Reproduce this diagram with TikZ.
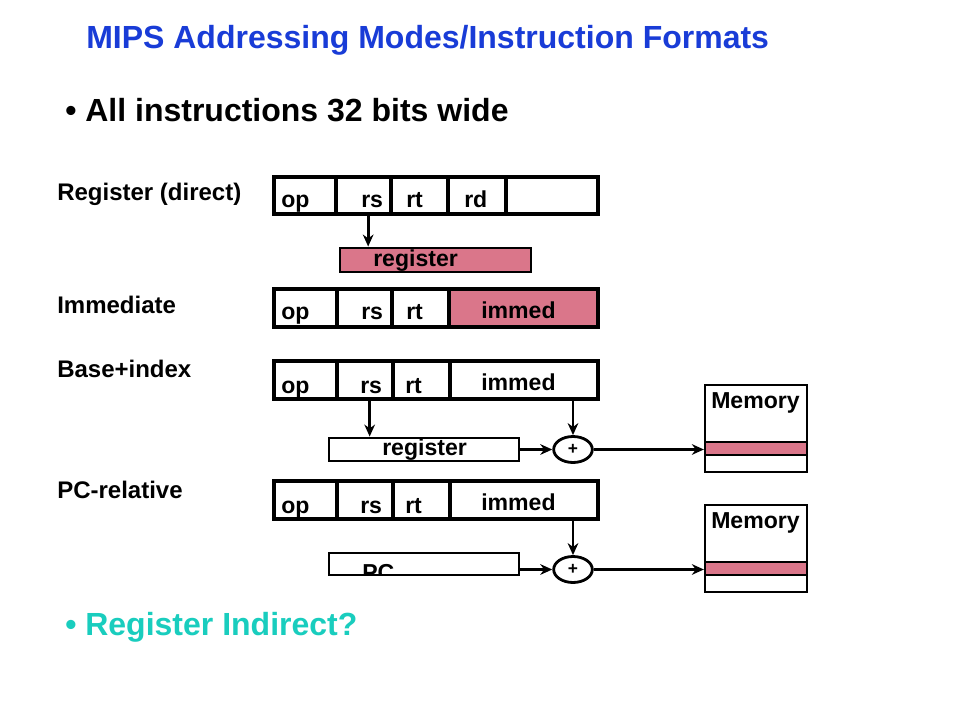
\documentclass[tikz,border=0pt]{standalone}
\usepackage{fontspec}
\setmainfont{Liberation Sans}
\usetikzlibrary{arrows.meta,fit,shapes.geometric}
\definecolor{titleblue}{RGB}{25,60,215}
\definecolor{tealtxt}{RGB}{25,205,190}
\definecolor{hatch}{RGB}{218,118,138}
\begin{document}
\begin{tikzpicture}[x=0.75pt,y=-0.75pt,
  fld/.style={draw, line width=2.5pt, inner sep=0pt},
  regbox/.style={draw, line width=2.2pt, inner sep=0pt},
  membox/.style={draw, line width=2.1pt, inner sep=0pt},
  band/.style={draw, line width=1.7pt, inner sep=0pt, fill=hatch},
  txt/.style={anchor=base west, inner sep=0pt, font=\fontsize{17.3}{20}\selectfont\bfseries},
  lbl/.style={anchor=base west, inner sep=0pt, font=\fontsize{18}{21}\selectfont\bfseries},
  big/.style={anchor=base west, inner sep=0pt, font=\fontsize{24}{28}\selectfont\bfseries},
  adder/.style={draw, ellipse, line width=2.1pt, inner sep=0pt, minimum width=29pt, minimum height=19.5pt, font=\fontsize{13}{15}\selectfont\bfseries},
  arr/.style={line width=2.1pt, -{Stealth[length=9pt,width=8pt]}}
]
\useasboundingbox[fill=white] (0,0) rectangle (960,720);

% titles
\node[big, text=titleblue] (title) at (86,49) {MIPS Addressing Modes/Instruction Formats};
\node[big] (bul1) at (65,122) {• All instructions 32 bits wide};
\node[big, text=tealtxt] (bul2) at (65,635) {• Register Indirect?};

% mode labels
\node[lbl] (l1) at (57,201) {Register (direct)};
\node[lbl] (l2) at (57,313) {Immediate};
\node[lbl] (l3) at (57,377) {Base+index};
\node[lbl] (l4) at (57,498) {PC-relative};

% ---- Row 1: register direct
\node[fld, fit={(274,177) (336,214)}] (op1) {};
\node[fld, fit={(336,177) (391,214)}] (rs1) {};
\node[fld, fit={(391,177) (448,214)}] (rt1) {};
\node[fld, fit={(448,177) (506,214)}] (rd1) {};
\node[fld, fit={(506,177) (598,214)}] (fn1) {};
\node[txt] (op1t) at (281,208) {op};
\node[txt] (rs1t) at (361,208) {rs};
\node[txt] (rt1t) at (406,208) {rt};
\node[txt] (rd1t) at (464,208) {rd};

\node[regbox, fill=hatch, fit={(340,248) (531,272)}] (reg1) {};
\node[txt] (reg1t) at (373,267) {register};
\draw[arr] ([xshift=3.5pt]rs1.south) -- ([xshift=3.5pt]rs1.south |- reg1.north);

% ---- Row 2: immediate
\node[fld, fit={(274,289) (337,327)}] (op2) {};
\node[fld, fit={(337,289) (392,327)}] (rs2) {};
\node[fld, fit={(392,289) (449,327)}] (rt2) {};
\node[fld, fill=hatch, fit={(449,289) (598,327)}] (im2) {};
\node[txt] (op2t) at (281,320) {op};
\node[txt] (rs2t) at (361,320) {rs};
\node[txt] (rt2t) at (406,320) {rt};
\node[txt] (im2t) at (481,319) {immed};

% ---- Row 3: base+index
\node[fld, fit={(274,361) (337,399)}] (op3) {};
\node[fld, fit={(337,361) (393,399)}] (rs3) {};
\node[fld, fit={(393,361) (450,399)}] (rt3) {};
\node[fld, fit={(450,361) (598,399)}] (im3) {};
\node[txt] (op3t) at (281,393) {op};
\node[txt] (rs3t) at (360,393) {rs};
\node[txt] (rt3t) at (405,393) {rt};
\node[txt] (im3t) at (481,390) {immed};

\node[regbox, fit={(329,438) (519,461)}] (reg2) {};
\node[txt] (reg2t) at (382,455) {register};
\node[adder] (add1) at (573,449.5) {+};
\node[membox, fit={(705,385) (807,472)}] (mem1) {};
\node[band, fit={(705,442) (807,455)}] (band1) {};
\node[txt] (mem1t) at (711,408) {Memory};

\draw[arr] ([xshift=3.5pt]rs3.south) -- ([xshift=3.5pt]rs3.south |- reg2.north);
\draw[arr] (add1.north |- im3.south) -- (add1.north);
\draw[arr] (reg2.east |- add1.west) -- (add1.west);
\draw[arr] (add1.east) -- (band1.west |- add1.east);

% ---- Row 4: PC-relative
\node[fld, fit={(274,481) (337,519)}] (op4) {};
\node[fld, fit={(337,481) (393,519)}] (rs4) {};
\node[fld, fit={(393,481) (450,519)}] (rt4) {};
\node[fld, fit={(450,481) (598,519)}] (im4) {};
\node[txt] (op4t) at (281,513) {op};
\node[txt] (rs4t) at (360,513) {rs};
\node[txt] (rt4t) at (405,513) {rt};
\node[txt] (im4t) at (481,510) {immed};

\begin{scope}
  \clip (329,553) rectangle (519,575);
  \node[txt] (pct) at (362,580) {PC};
\end{scope}
\node[regbox, fit={(329,553) (519,575)}] (pc) {};
\node[adder] (add2) at (573,569.5) {+};
\node[membox, fit={(705,505) (807,592)}] (mem2) {};
\node[band, fit={(705,562) (807,575)}] (band2) {};
\node[txt] (mem2t) at (711,528) {Memory};

\draw[arr] (add2.north |- im4.south) -- (add2.north);
\draw[arr] (pc.east |- add2.west) -- (add2.west);
\draw[arr] (add2.east) -- (band2.west |- add2.east);
\end{tikzpicture}
\end{document}
